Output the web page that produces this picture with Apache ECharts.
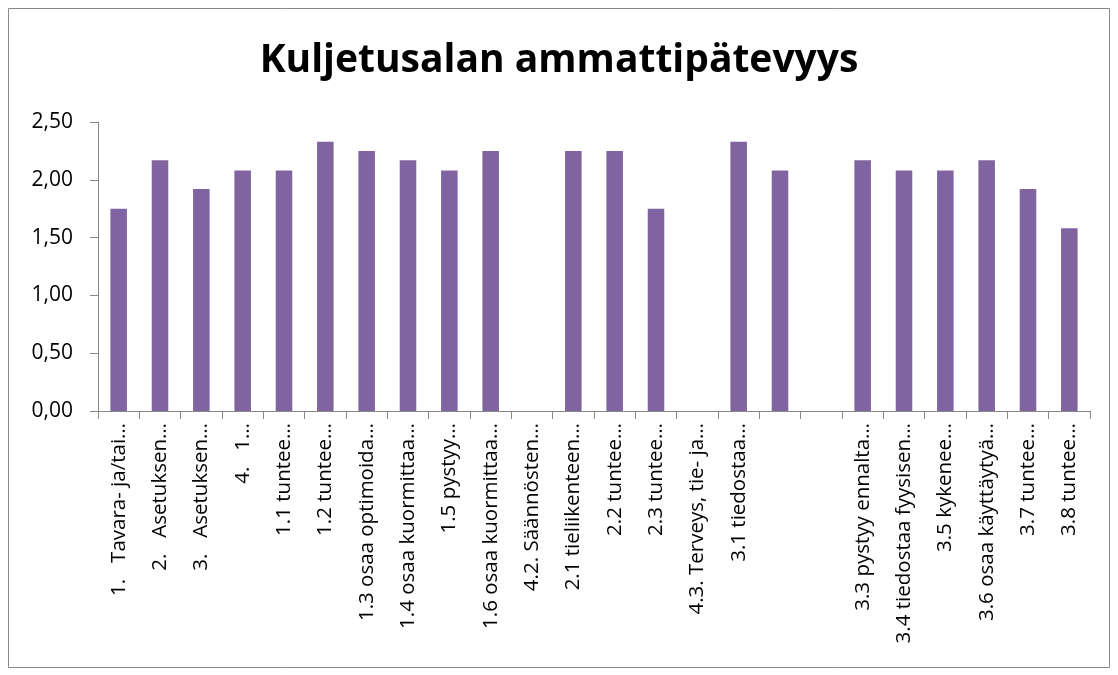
<!DOCTYPE html>
<html>
<head>
<meta charset="utf-8">
<script src="https://cdn.jsdelivr.net/npm/echarts@6/dist/echarts.min.js"></script>
<style>
  html, body { margin: 0; padding: 0; background: #fff; }
  #myChart { width: 1118px; height: 675px; }
</style>
</head>
<body>
<div id="myChart"></div>
<script>
// kategoriat (katkaistut nimet kuten kuvassa)
var categories = [
  "1.   Tavara- ja/tai…", "2.   Asetuksen…", "3.   Asetuksen…", "4.   1…",
  "1.1 tuntee…", "1.2 tuntee…", "1.3 osaa optimoida…", "1.4 osaa kuormittaa…",
  "1.5 pystyy…", "1.6 osaa kuormittaa…", "4.2. Säännösten…", "2.1 tieliikenteen…",
  "2.2 tuntee…", "2.3 tuntee…", "4.3. Terveys, tie- ja…", "3.1 tiedostaa…",
  "", "", "3.3 pystyy ennalta…", "3.4 tiedostaa fyysisen…",
  "3.5 kykenee…", "3.6 osaa käyttäytyä…", "3.7 tuntee…", "3.8 tuntee…"
];
var values = [
  1.75, 2.17, 1.92, 2.08,
  2.08, 2.33, 2.25, 2.17,
  2.08, 2.25, null, 2.25,
  2.25, 1.75, null, 2.33,
  2.08, null, 2.17, 2.08,
  2.08, 2.17, 1.92, 1.58
];
var yTicks = [0, 0.5, 1, 1.5, 2, 2.5];

var font = "'Open Sans', Lato, sans-serif";
var myChart = echarts.init(document.getElementById("myChart"));

var option = {
  animation: false,
  title: {
    text: "Kuljetusalan ammattipätevyys",
    left: "center",
    top: 36,
    textStyle: { fontFamily: font, fontSize: 39, fontWeight: "bold", color: "#000" }
  },
  graphic: [
    {
      type: "rect",
      shape: { x: 8.5, y: 8.5, width: 1101, height: 659 },
      style: { fill: "none", stroke: "#888", lineWidth: 1 }
    }
  ],
  grid: { left: 98, right: 28, top: 122, bottom: 264 },
  xAxis: {
    type: "category",
    data: categories,
    axisLine: { lineStyle: { color: "#888" } },
    axisTick: { show: true, length: 8, alignWithLabel: false, lineStyle: { color: "#888" } },
    axisLabel: {
      rotate: 90,
      interval: 0,
      margin: 12,
      color: "#000",
      fontFamily: font,
      fontSize: 20.5
    }
  },
  yAxis: {
    type: "value",
    min: 0,
    max: yTicks[yTicks.length - 1],
    interval: 0.5,
    splitLine: { show: false },
    axisLine: { show: true, lineStyle: { color: "#888" } },
    axisTick: { show: true, length: 8, lineStyle: { color: "#888" } },
    axisLabel: {
      color: "#000",
      fontFamily: font,
      fontSize: 21,
      margin: 25,
      formatter: function (v) { return v.toFixed(2).replace(".", ","); }
    }
  },
  series: [
    {
      type: "bar",
      data: values,
      barWidth: "40%",
      itemStyle: { color: "#8064A2" }
    }
  ]
};

myChart.setOption(option);
</script>
</body>
</html>
